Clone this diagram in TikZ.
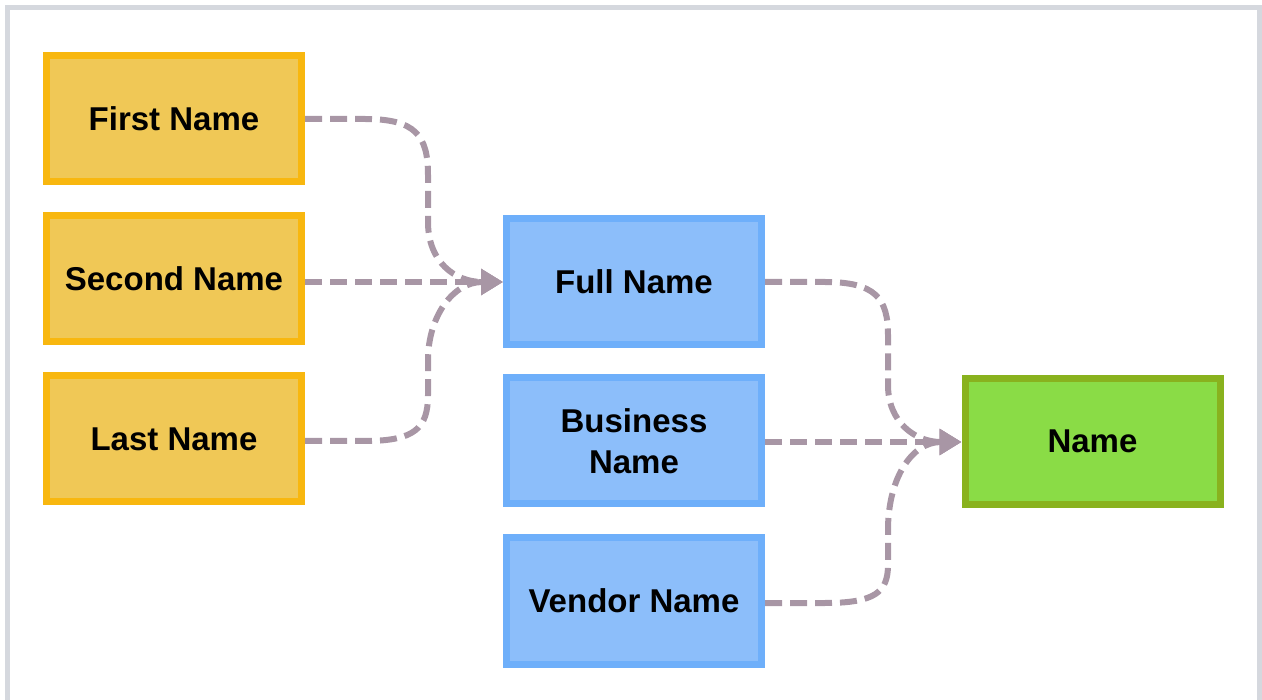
\documentclass[tikz,border=0pt]{standalone}
\usepackage{fontspec}
\setmainfont{Liberation Sans}
\usetikzlibrary{arrows.meta,calc}
\definecolor{obord}{HTML}{F8B70F}
\definecolor{ofill}{HTML}{F0C856}
\definecolor{bbord}{HTML}{6EAFFA}
\definecolor{bfill}{HTML}{8CBEFA}
\definecolor{gbord}{HTML}{89B21E}
\definecolor{gfill}{HTML}{8ADC46}
\definecolor{conncol}{HTML}{A896A5}
\definecolor{framecol}{HTML}{D5D8DE}
\tikzset{
  boxbase/.style={rectangle, line width=7pt, minimum width=255pt, minimum height=126pt,
    inner sep=0pt, outer sep=3.5pt, align=center,
    font=\fontsize{33}{41}\selectfont\bfseries, text=black},
  obox/.style={boxbase, draw=obord, fill=ofill},
  bbox/.style={boxbase, draw=bbord, fill=bfill},
  gbox/.style={boxbase, draw=gbord, fill=gfill},
  conn/.style={draw=conncol, line width=6pt, dash pattern=on 17pt off 8pt,
    -{Triangle[length=22pt,width=25pt]}},
}
\begin{document}
\begin{tikzpicture}[x=1pt,y=-1pt]
\useasboundingbox (0,0) rectangle (1262,700);
\draw[framecol, line width=5.5pt] (7.5,7.5) rectangle (1259.5,704);
% left column
\node[obox] (fn) at (174,118.5) {First Name};
\node[obox] (sn) at (174,278.5) {Second Name};
\node[obox] (ln) at (174,439) {Last Name};
% middle column
\node[bbox] (full) at (634,281.5) {Full Name};
\node[bbox] (bus) at (634,441) {Business\\Name};
\node[bbox] (ven) at (634,601) {Vendor Name};
% right
\node[gbox] (nm) at (1092.5,441.5) {Name};
% coordinates
\coordinate (fulltip) at (full.west |- 0,282);
\coordinate (nmtip) at (nm.west |- 0,442);
% edges into Full Name
\draw[conn] (fn.east |- 0,119) -- (365,119) .. controls (415,119) and (428,135) .. (428,175)
  -- (428,222) .. controls (428,262) and (455,282) .. (fulltip);
\draw[conn] (sn.east |- 0,282) -- (fulltip);
\draw[conn] (ln.east |- 0,441) -- (365,441) .. controls (415,441) and (428,428) .. (428,395)
  -- (428,360) .. controls (428,318) and (452,282) .. (fulltip);
% edges into Name
\draw[conn] (full.east |- 0,282) -- (825,282) .. controls (875,282) and (888,298) .. (888,335)
  -- (888,385) .. controls (888,422) and (915,442) .. (nmtip);
\draw[conn] (bus.east |- 0,442) -- (nmtip);
\draw[conn] (ven.east |- 0,603) -- (825,603) .. controls (875,603) and (888,592) .. (888,565)
  -- (888,530) .. controls (888,478) and (912,442) .. (nmtip);
\end{tikzpicture}
\end{document}
